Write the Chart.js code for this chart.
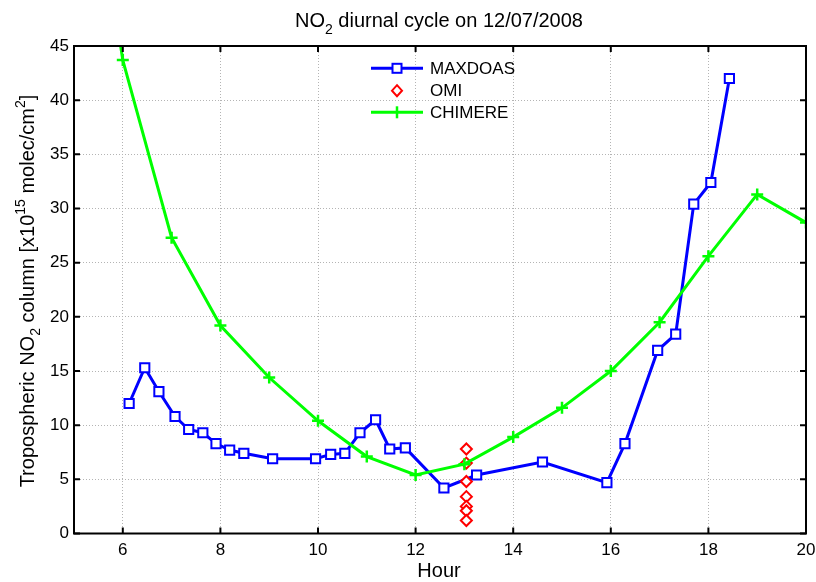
<!DOCTYPE html>
<html><head><meta charset="utf-8">
<script src="https://cdn.jsdelivr.net/npm/chart.js@4"></script>
<style>html,body{margin:0;padding:0;background:#fff}canvas{display:block}</style>
</head><body>
<canvas id="c" width="816" height="582"></canvas>
<script>
// ---- data ----
const maxdoasHours  = [6.13, 6.45, 6.74, 7.07, 7.35, 7.64, 7.91, 8.19, 8.48, 9.07, 9.95, 10.26, 10.55, 10.86, 11.18, 11.47, 11.79, 12.58, 13.25, 14.6, 15.92, 16.29, 16.96, 17.33, 17.7, 18.05, 18.43];
const maxdoasValues = [12.0, 15.3, 13.1, 10.8, 9.6, 9.3, 8.3, 7.7, 7.4, 6.9, 6.9, 7.3, 7.4, 9.3, 10.5, 7.8, 7.9, 4.2, 5.4, 6.6, 4.7, 8.3, 16.9, 18.4, 30.4, 32.4, 42.0];
const omiHours      = [13.04, 13.04, 13.04, 13.04, 13.04, 13.04, 13.04];
const omiValues     = [7.8, 6.5, 4.8, 3.4, 2.5, 2.1, 1.2];
const chimereHours  = [5, 6, 7, 8, 9, 10, 11, 12, 13, 14, 15, 16, 17, 18, 19, 20];
const chimereValues = [73, 43.7, 27.3, 19.2, 14.4, 10.4, 7.1, 5.4, 6.4, 8.9, 11.6, 15.0, 19.5, 25.6, 31.3, 28.7];
const xTicks = [6, 8, 10, 12, 14, 16, 18, 20];
const yTicks = [0, 5, 10, 15, 20, 25, 30, 35, 40, 45];
const seriesNames = ['MAXDOAS', 'OMI', 'CHIMERE'];

const FONT = '"Liberation Sans", Arial, sans-serif';
const BLUE = '#0000ff', RED = '#ff0000', GREEN = '#00ff00';

const pts = (xs, ys) => xs.map((v, i) => ({x: v, y: ys[i]}));

function richWidth(ctx, parts, size) {
  let w = 0;
  parts.forEach(p => {
    ctx.font = (p.s ? Math.round(size * 0.7) : size) + 'px ' + FONT;
    w += ctx.measureText(p.t).width;
  });
  return w;
}
function drawRich(ctx, parts, x, y, size) {
  ctx.textBaseline = 'alphabetic';
  ctx.textAlign = 'left';
  let cx = x;
  parts.forEach(p => {
    const fs = p.s ? Math.round(size * 0.7) : size;
    ctx.font = fs + 'px ' + FONT;
    const dy = p.s === -1 ? size * 0.33 : (p.s === 1 ? -size * 0.42 : 0);
    ctx.fillText(p.t, cx, y + dy);
    cx += ctx.measureText(p.t).width;
  });
}

const matlabPlugin = {
  id: 'matlab',
  afterDraw(chart) {
    const {ctx, chartArea: a, scales: {x, y}} = chart;
    ctx.save();
    // axes box
    ctx.strokeStyle = '#000';
    ctx.lineWidth = 2;
    ctx.strokeRect(a.left, a.top, a.right - a.left, a.bottom - a.top);
    // inward ticks
    const L = 6;
    ctx.beginPath();
    xTicks.forEach(v => {
      const px = x.getPixelForValue(v);
      ctx.moveTo(px, a.bottom); ctx.lineTo(px, a.bottom - L);
      ctx.moveTo(px, a.top); ctx.lineTo(px, a.top + L);
    });
    yTicks.forEach(v => {
      const py = y.getPixelForValue(v);
      ctx.moveTo(a.left, py); ctx.lineTo(a.left + L, py);
      ctx.moveTo(a.right, py); ctx.lineTo(a.right - L, py);
    });
    ctx.stroke();

    ctx.fillStyle = '#000';
    // title
    const title = [{t: 'NO'}, {t: '2', s: -1}, {t: ' diurnal cycle on 12/07/2008'}];
    const tw = richWidth(ctx, title, 20);
    drawRich(ctx, title, 439 - tw / 2, 27, 20);
    // x label
    ctx.font = '20px ' + FONT;
    ctx.textAlign = 'center';
    ctx.textBaseline = 'alphabetic';
    ctx.fillText('Hour', 439, 577);
    // y label
    const ylab = [{t: 'Tropospheric NO'}, {t: '2', s: -1}, {t: ' column [x10'}, {t: '15', s: 1}, {t: ' molec/cm'}, {t: '2', s: 1}, {t: ']'}];
    const yw = richWidth(ctx, ylab, 20);
    ctx.save();
    ctx.translate(33.5, 291);
    ctx.rotate(-Math.PI / 2);
    drawRich(ctx, ylab, -yw / 2, 0, 20);
    ctx.restore();

    // legend
    const lx1 = 371, lx2 = 423, mx = 397, tx = 430;
    const ly = [68.3, 90.7, 112.3];
    ctx.lineWidth = 3;
    ctx.strokeStyle = BLUE;
    ctx.beginPath(); ctx.moveTo(lx1, ly[0]); ctx.lineTo(lx2, ly[0]); ctx.stroke();
    ctx.lineWidth = 2;
    ctx.fillStyle = '#fff';
    ctx.fillRect(mx - 4.5, ly[0] - 4.5, 9, 9);
    ctx.strokeRect(mx - 4.5, ly[0] - 4.5, 9, 9);
    ctx.strokeStyle = RED;
    ctx.beginPath();
    ctx.moveTo(mx, ly[1] - 5.5); ctx.lineTo(mx + 5, ly[1]); ctx.lineTo(mx, ly[1] + 5.5); ctx.lineTo(mx - 5, ly[1]); ctx.closePath();
    ctx.fill(); ctx.stroke();
    ctx.strokeStyle = GREEN;
    ctx.lineWidth = 3;
    ctx.beginPath(); ctx.moveTo(lx1, ly[2]); ctx.lineTo(lx2, ly[2]); ctx.stroke();
    ctx.lineWidth = 2.5;
    ctx.beginPath(); ctx.moveTo(mx, ly[2] - 6); ctx.lineTo(mx, ly[2] + 6); ctx.stroke();
    ctx.fillStyle = '#000';
    ctx.font = '17px ' + FONT;
    ctx.textAlign = 'left';
    ctx.textBaseline = 'middle';
    seriesNames.forEach((n, i) => ctx.fillText(n, tx, ly[i] + 1));
    ctx.restore();
  }
};

new Chart(document.getElementById('c'), {
  type: 'scatter',
  data: {
    datasets: [
      {
        label: seriesNames[0], data: pts(maxdoasHours, maxdoasValues), showLine: true,
        borderColor: BLUE, borderWidth: 3, pointStyle: 'rect', pointRadius: 6.5,
        pointBorderWidth: 2, pointBorderColor: BLUE, pointBackgroundColor: '#ffffff', order: 3
      },
      {
        label: seriesNames[1], data: pts(omiHours, omiValues), showLine: false,
        pointStyle: 'rectRot', pointRadius: 5.5, pointBorderWidth: 2,
        pointBorderColor: RED, pointBackgroundColor: '#ffffff', order: 2
      },
      {
        label: seriesNames[2], data: pts(chimereHours, chimereValues), showLine: true,
        borderColor: GREEN, borderWidth: 3, pointStyle: 'cross', pointRadius: 6,
        pointBorderWidth: 2.5, pointBorderColor: GREEN, pointBackgroundColor: GREEN, order: 1
      }
    ]
  },
  options: {
    responsive: false,
    animation: false,
    devicePixelRatio: 1,
    layout: {padding: {left: 0, right: 0, top: 46, bottom: 0}},
    plugins: {legend: {display: false}, tooltip: {enabled: false}, title: {display: false}},
    scales: {
      x: {
        type: 'linear', min: 5, max: 20,
        afterBuildTicks: s => { s.ticks = xTicks.map(v => ({value: v})); },
        afterFit: s => { s.height = 48.5; s.paddingRight = 10; s.paddingLeft = 0; },
        grid: {color: '#b4b4b4', lineWidth: 1, drawTicks: false},
        border: {display: false, dash: [1, 2]},
        ticks: {color: '#000', font: {family: FONT, size: 17}, padding: 7, maxRotation: 0, autoSkip: false}
      },
      y: {
        type: 'linear', min: 0, max: 45,
        afterBuildTicks: s => { s.ticks = yTicks.map(v => ({value: v})); },
        afterFit: s => { s.width = 74; s.paddingTop = 0; s.paddingBottom = 0; },
        grid: {color: '#b4b4b4', lineWidth: 1, drawTicks: false},
        border: {display: false, dash: [1, 2]},
        ticks: {color: '#000', font: {family: FONT, size: 17}, padding: 5, autoSkip: false}
      }
    }
  },
  plugins: [matlabPlugin]
});
</script>
</body></html>
